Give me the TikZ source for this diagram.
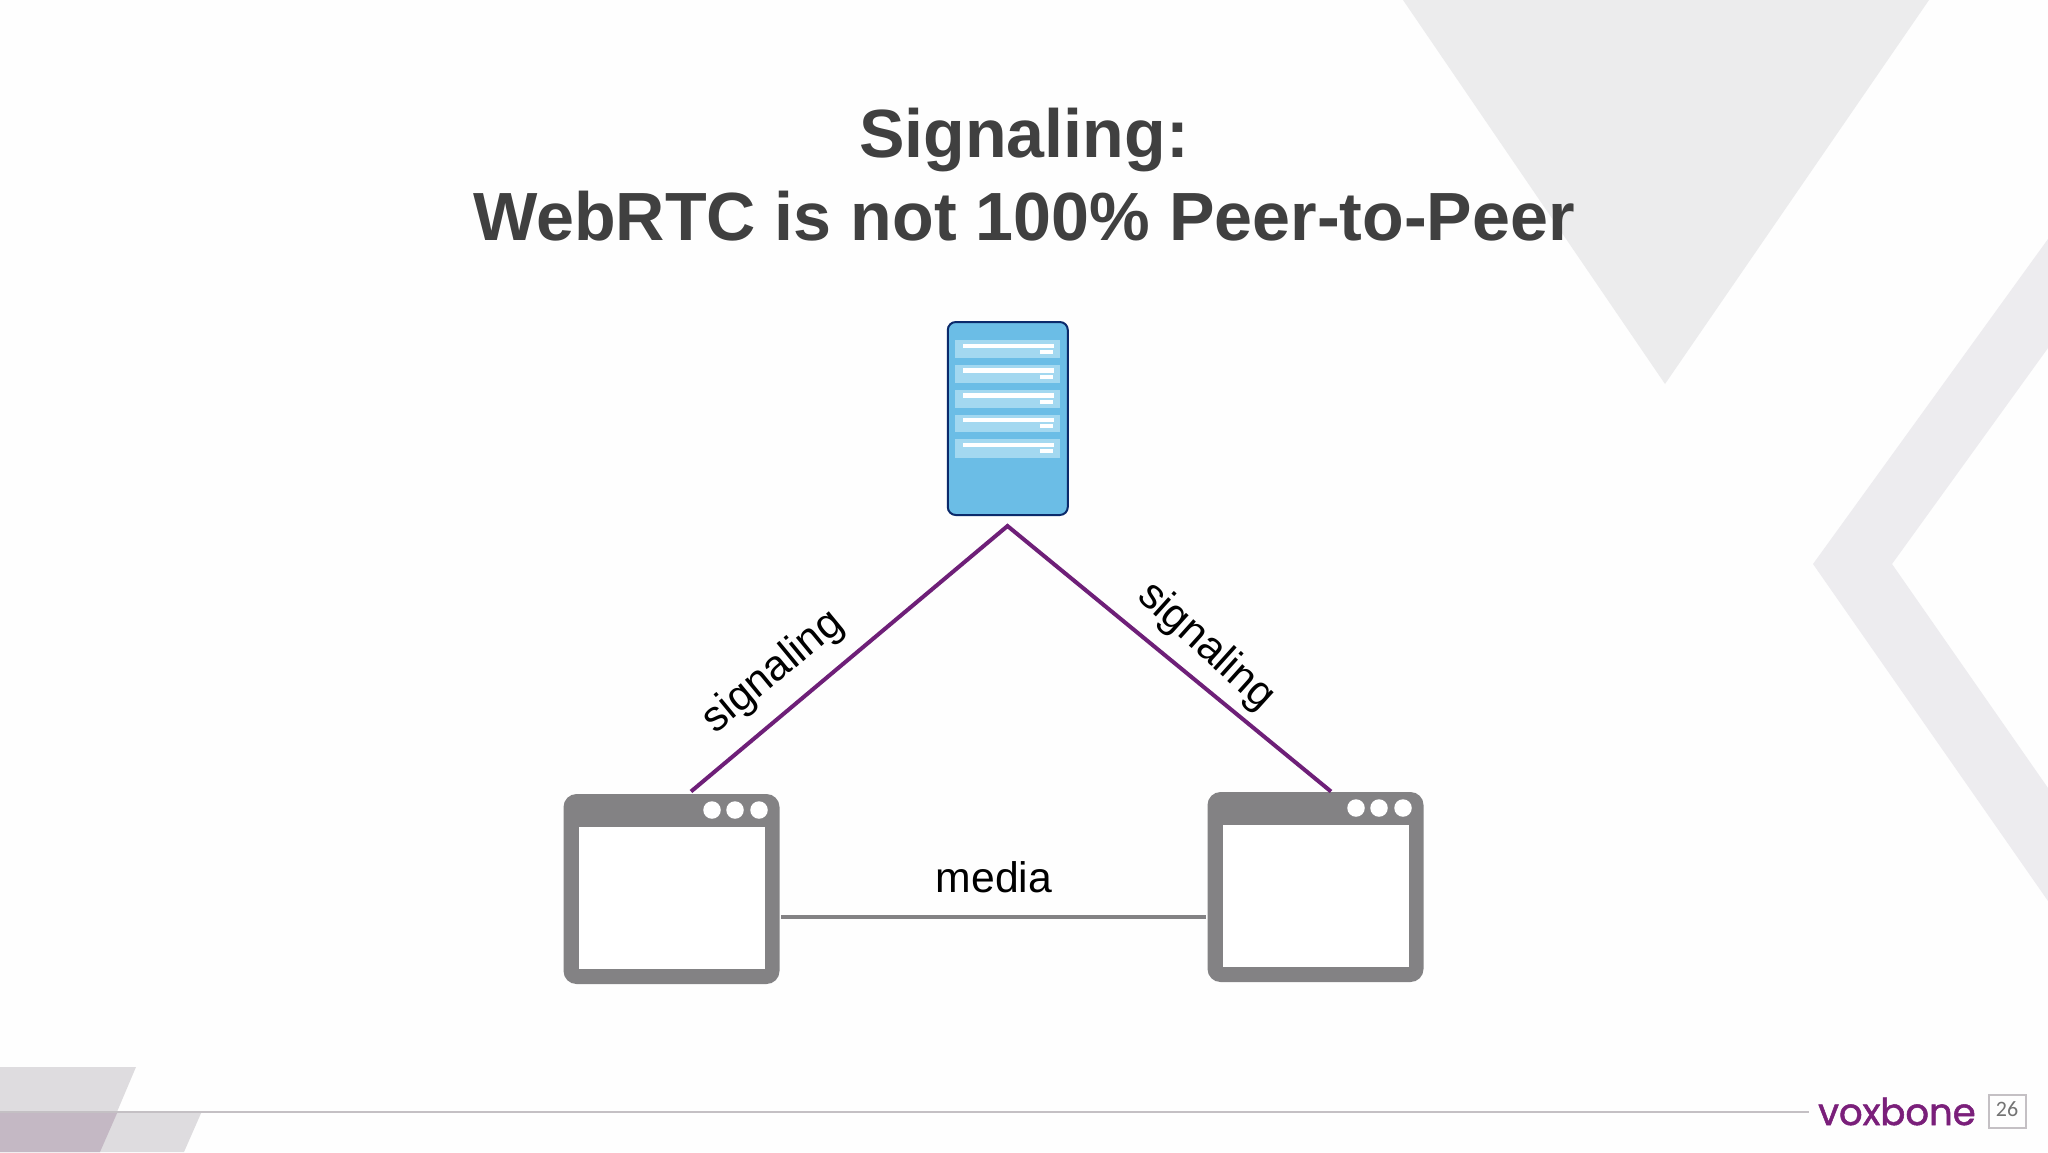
\documentclass[tikz,border=0pt]{standalone}
\usepackage{fontspec}
\setmainfont{Liberation Sans}
\newfontfamily\logofont[FakeBold=1.4]{Poppins}
\newfontfamily\numfont{Carlito}
\definecolor{bgc}{HTML}{FEFEFE}
\definecolor{tri}{HTML}{ECECED}
\definecolor{chev}{HTML}{EDECEF}
\definecolor{foot}{HTML}{DEDCDF}
\definecolor{overlap}{HTML}{C4B8C4}
\definecolor{rulec}{HTML}{C4C0C4}
\definecolor{titlec}{HTML}{404040}
\definecolor{plum}{HTML}{6E1F78}
\definecolor{logoc}{HTML}{7A1F7A}
\definecolor{winc}{HTML}{838284}
\definecolor{srvfill}{HTML}{6BBDE6}
\definecolor{srvline}{HTML}{0B2A6B}
\definecolor{slotc}{HTML}{A3D8F0}
\tikzset{
  x=1pt,y=-1pt,
  bare/.style={inner sep=0pt,outer sep=0pt},
  titletext/.style={anchor=base,text=titlec,font=\fontsize{68.2}{68}\selectfont\bfseries,inner sep=0pt},
  lbl/.style={anchor=center,text=black,font=\fontsize{42.7}{43}\selectfont,inner sep=0pt},
  server/.style={bare,rectangle,rounded corners=8pt,draw=srvline,line width=2pt,fill=srvfill,minimum width=120pt,minimum height=193pt},
  slot/.style={fill=slotc,draw=none},
  bar/.style={fill=white,draw=none},
  window/.style={bare,rectangle,rounded corners=13pt,fill=winc,minimum width=216pt,minimum height=190pt},
  pane/.style={bare,rectangle,fill=white,minimum width=186pt,minimum height=142pt},
  dot/.style={bare,circle,fill=white,minimum size=17.5pt},
  sig/.style={draw=plum,line width=4pt},
  med/.style={draw=winc,line width=4pt}
}
\begin{document}
\begin{tikzpicture}
\useasboundingbox (0,0) rectangle (2048,1152);
\fill[bgc] (0,0) rectangle (2048,1152);
% background shapes
\fill[tri] (1403,0) -- (1929,0) -- (1665,384) -- cycle;
\fill[chev] (2048,239) -- (1813,564) -- (2048,901) -- (2048,788) -- (1892,564) -- (2048,348) -- cycle;
\fill[foot] (0,1067) -- (136,1067) -- (100,1152) -- (0,1152) -- cycle;
\fill[foot] (0,1111) -- (202,1111) -- (184,1152) -- (0,1152) -- cycle;
\fill[overlap] (0,1111) -- (118,1111) -- (100,1152) -- (0,1152) -- cycle;
\coordinate (ruleL) at (0,1112);
\coordinate (ruleR) at (1809,1112);
\draw[rulec,line width=2pt] (ruleL) -- (ruleR);
% title
\node[titletext] (t1) at (1024,157.5) {Signaling:};
\node[titletext] (t2) at (1024,240) {WebRTC is not 100\% Peer-to-Peer};
% server
\node[server] (srv) at (1007.8,418.5) {};
\foreach \ya/\yb/\yc/\yd in {340/358/345.7/351.7,365/383/370.3/376.7,390/408/395.3/401.7,415/432/420/426,439/458/444.7/451}{
  \fill[slot] (955,\ya) rectangle (1060,\yb);
  \fill[bar] (963,\yc-2.2) rectangle (1054,\yc+2.2);
  \fill[bar] (1040,\yd-2) rectangle (1053,\yd+2);
}
% windows
\node[window] (wl) at (671.5,889) {};
\node[pane] (pl) at (671.5,898) {};
\node[dot] (dl1) at (712,810) {};
\node[dot] (dl2) at (735,810) {};
\node[dot] (dl3) at (759,810) {};
\node[window] (wr) at (1315.5,887) {};
\node[pane] (pr) at (1315.5,895.5) {};
\node[dot] (dr1) at (1356,808) {};
\node[dot] (dr2) at (1379,808) {};
\node[dot] (dr3) at (1403,808) {};
% connectors
\coordinate (apex) at (1007.5,526);
\coordinate (endL) at (691,791.5);
\coordinate (endR) at (1331,791.5);
\coordinate (medL) at (781,917);
\coordinate (medR) at (1206,917);
\draw[sig,line join=miter] (endL) -- (apex) -- (endR);
\draw[med] (medL) -- (medR);
% labels
\node[lbl,rotate=39.5] (sl) at (773.5,672) {signaling};
\node[lbl,rotate=-42] (sr) at (1206,646.5) {signaling};
\node[lbl] (md) at (994,877) {media};
% footer
\node[anchor=base west,inner sep=0pt,text=logoc,font=\logofont\fontsize{37}{37}\selectfont] (logo) at (1818,1125) {voxbone};
\node[bare,rectangle,draw=rulec,line width=2pt,minimum width=37pt,minimum height=33pt] (pg) at (2007,1111) {};
\node[bare,text=black!55,font=\numfont\fontsize{22}{22}\selectfont] (pgnum) at (2007,1109) {26};
\end{tikzpicture}
\end{document}
